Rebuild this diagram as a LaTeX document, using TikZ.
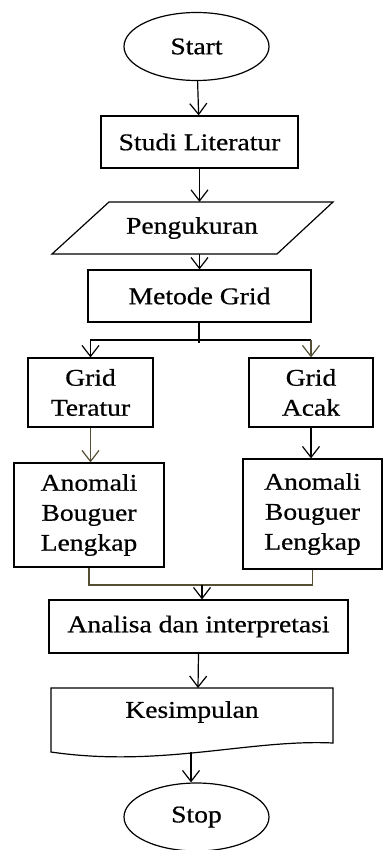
\documentclass[tikz,border=0pt]{standalone}
\usepackage{fontspec}
\setmainfont{Liberation Serif}[FakeStretch=1.15, FakeBold=0.6]
\usetikzlibrary{arrows.meta,shapes.geometric}
\definecolor{oliveline}{rgb}{0.33,0.31,0.2}
\begin{document}
\begin{tikzpicture}[x=1pt, y=-1pt,
    every node/.style={font=\fontsize{24}{30}\selectfont, inner sep=0pt, align=center},
    term/.style={draw, line width=1.2pt, ellipse, minimum width=145pt, minimum height=68pt},
    box/.style={draw, line width=1.2pt, rectangle},
    arr/.style={line width=1.2pt, -{Straight Barb[length=11pt, width=17pt]}},
    link/.style={line width=1.2pt}]
  \useasboundingbox (0,0) rectangle (383,850);
  % Terminals
  \node[term] (start) at (196.5,46.5) {Start};
  \node[term] (stop) at (196.5,817) {Stop};
  % Main column
  \node[box, minimum width=197pt, minimum height=52pt] (studi) at (199.5,142) {Studi Literatur};
  \draw[line width=1.2pt] (109,202) -- (333,202) -- (277,254) -- (52,254) -- cycle;
  \node[minimum height=52pt] (ukur) at (192,228) {Pengukuran};
  \node[box, minimum width=223pt, minimum height=52pt] (metode) at (199.5,296) {Metode Grid};
  % Two branches
  \node[box, minimum width=125pt, minimum height=69pt] (teratur) at (90.5,392.5) {Grid\\Teratur};
  \node[box, minimum width=124pt, minimum height=69pt] (acak) at (311,392.5) {Grid\\Acak};
  \node[box, minimum width=150pt, minimum height=104pt] (anom1) at (89,515) {Anomali\\Bouguer\\Lengkap};
  \node[box, minimum width=139pt, minimum height=110pt] (anom2) at (312.5,514) {Anomali\\Bouguer\\Lengkap};
  % Bottom
  \node[box, minimum width=299pt, minimum height=53pt] (analisa) at (198.5,626.5) {Analisa dan interpretasi};
  \draw[line width=1.2pt] (51,752) -- (51,688) -- (333,688) -- (333,743)
    .. controls (250,739) and (160,768) .. cycle;
  \node (kes) at (192,712) {Kesimpulan};
  \coordinate (kestop) at (198,688);
  \coordinate (kesb) at (191,752);
  \coordinate (split) at (199,340);
  \coordinate (merge) at (202,585);
  % Connectors
  \draw[arr] (start) -- (studi);
  \draw[arr] (studi.south) -- (studi.south |- ukur.north);
  \draw[arr] (studi.south |- ukur.south) -- (studi.south |- metode.north);
  \draw[link] (metode.south -| split) -- ++(0,20);
  \draw[arr] (split) -| (teratur.north);
  \draw[link] (split) -- (split -| acak.north);
  \draw[arr, oliveline] (split -| acak.north) -- (acak.north);
  \draw[arr, oliveline] (teratur.south) -- (teratur.south |- anom1.north);
  \draw[arr] (acak.south) -- (acak.south |- anom2.north);
  \draw[link, oliveline] (anom1.south) |- (merge);
  \draw[link, oliveline] (anom2.south) |- (merge);
  \draw[arr] (merge) -- (merge |- analisa.north);
  \draw[arr] (analisa.south) -- (kestop);
  \draw[arr] (kesb) -- (kesb |- stop.north);
\end{tikzpicture}
\end{document}
